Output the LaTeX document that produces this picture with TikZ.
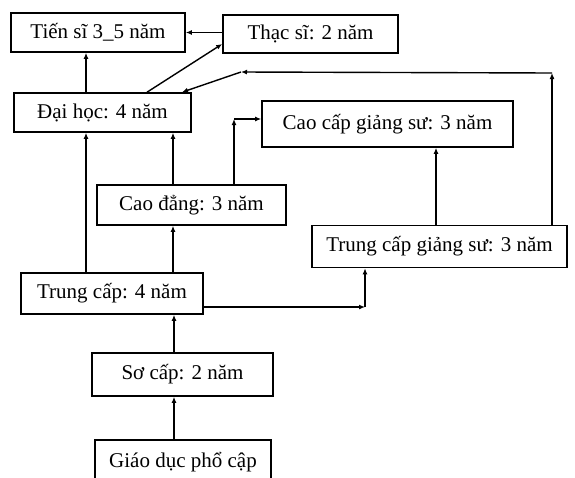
\documentclass[tikz,border=0pt]{standalone}
\usepackage{fontspec}
\setmainfont{Liberation Serif}
\usetikzlibrary{arrows.meta}

\begin{document}
\begin{tikzpicture}[x=1pt,y=-1pt,
        khoi/.style={draw,line width=1.6pt,inner sep=2pt,font=\fontsize{21}{24}\selectfont},
        noi/.style={-{Latex[length=6pt,width=5pt]},line width=1.4pt}]
            \useasboundingbox (0,0) rectangle (575,477);
            \clip (0,0) rectangle (575,477);

            \coordinate (A) at (86, 0);
            \coordinate (B) at (147, 0);
            \coordinate (C) at (0, 44);
            \coordinate (D) at (552, 73);
            \coordinate (E) at (241, 72);
            \coordinate (F) at (182, 0);
            \coordinate (G) at (173, 0);
            \coordinate (H) at (234, 119);
            \coordinate (I) at (436, 0);
            \coordinate (J) at (365, 307);
            \coordinate (K) at (174, 0);

            \node[khoi,minimum width=174pt,minimum height=39pt] (TS) at (98, 32.5) {Tiến sĩ 3\_5 năm};
            \node[khoi,minimum width=175pt,minimum height=38pt] (THS) at (310.5, 34) {Thạc sĩ: 2 năm};
            \node[khoi,minimum width=177pt,minimum height=39pt] (DH) at (102.5, 112.5) {Đại học: 4 năm};
            \node[khoi,minimum width=251pt,minimum height=46pt] (CCGS) at (387.5, 124) {Cao cấp giảng sư: 3 năm};
            \node[khoi,minimum width=189pt,minimum height=40pt] (CD) at (191.5, 205) {Cao đẳng: 3 năm};
            \node[khoi,minimum width=255pt,minimum height=42pt] (TCGS) at (439.5, 246.5) {Trung cấp giảng sư: 3 năm};
            \node[khoi,minimum width=182pt,minimum height=41pt] (TC) at (112, 293.5) {Trung cấp: 4 năm};
            \node[khoi,minimum width=181pt,minimum height=43pt] (SC) at (182.5, 374.5) {Sơ cấp: 2 năm};
            \node[khoi,minimum width=176pt,minimum height=44pt] (GD) at (183, 462) {Giáo dục phổ cập};

            \draw[noi] (THS.west |- TS.east) -- (TS.east);
            \draw[noi] (DH.north -| A) -- (TS.south -| A);
            \draw[noi] (DH.north -| B) -- (THS.west |- C);
            \draw[noi] (TCGS.north -| D) -- (D);
            \draw[noi] (D) -- (E);
            \draw[noi] (E) -- (DH.north -| F);
            \draw[noi] (TC.north -| A) -- (DH.south -| A);
            \draw[noi] (CD.north -| G) -- (DH.south -| G);
            \draw[noi] (TC.north -| G) -- (CD.south -| G);
            \draw[noi] (CD.north -| H) -- (H);
            \draw[noi] (H) -- (CCGS.west |- H);
            \draw[noi] (TCGS.north -| I) -- (CCGS.south -| I);
            \draw[noi] (TC.east |- J) -- (J);
            \draw[noi] (J) -- (TCGS.south -| J);
            \draw[noi] (SC.north -| K) -- (TC.south -| K);
            \draw[noi] (GD.north -| K) -- (SC.south -| K);

        \end{tikzpicture}
\end{document}
